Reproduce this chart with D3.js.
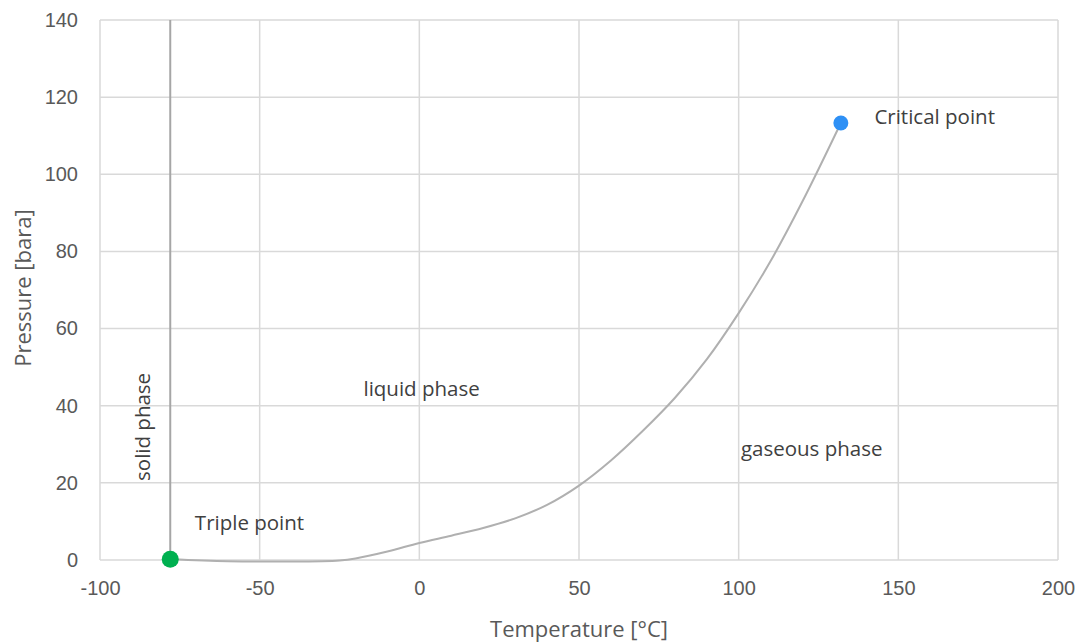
<!doctype html>
<html lang="en">
<head>
<meta charset="utf-8" />
<title>Phase diagram</title>
<style>
  html, body { margin: 0; padding: 0; background: #fff; }
  svg { display: block; font-family: "Open Sans", "Noto Sans", sans-serif; }
  .grid line { stroke: #d9d9d9; stroke-width: 1.5; }
  .tick text { fill: #595959; font-size: 20px; }
  .note { fill: #404040; font-size: 20.5px; }
  .title { fill: #595959; font-size: 22px; }
</style>
</head>
<body>
<script src="https://cdn.jsdelivr.net/npm/d3@7"></script>
<script>

// vapour pressure curve
var temps = [-78, -60, -40, -25, -20, -10, 0, 10, 20, 30, 40, 50, 60, 70, 80, 90, 100, 110, 120, 132];
var pressures = [0.2, -0.3, -0.4, -0.1, 0.4, 2.2, 4.4, 6.3, 8.3, 10.8, 14.3, 19.3, 25.8, 33.5, 42, 52, 64, 77.5, 93, 113.3];

// melting line (vertical)
var meltTemps = [-78, -78];
var meltPressures = [0.2, 140];

var triplePoint = [-78, 0.2];
var criticalPoint = [132, 113.3];

var xTicks = [-100, -50, 0, 50, 100, 150, 200];
var yTicks = [0, 20, 40, 60, 80, 100, 120, 140];

var notes = [
  { text: 'Critical point', t: 142.5, p: 115, rotate: false },
  { text: 'liquid phase', t: -17.5, p: 44.6, rotate: false },
  { text: 'gaseous phase', t: 100.7, p: 29, rotate: false },
  { text: 'Triple point', t: -70.3, p: 9.8, rotate: false },
  { text: 'solid phase', t: -87, p: 34.5, rotate: true }
];

var width = 1080, height = 642;
var margin = { top: 20, right: 22, bottom: 82, left: 100 };

var svg = d3.select('body').append('svg')
  .attr('width', width)
  .attr('height', height);

var x = d3.scaleLinear().domain([-100, 200]).range([margin.left, width - margin.right]);
var y = d3.scaleLinear().domain([0, 140]).range([height - margin.bottom, margin.top]);

// gridlines
var gx = svg.append('g').attr('class', 'grid');
gx.selectAll('line.v').data(xTicks).enter().append('line')
  .attr('class', 'v')
  .attr('x1', function (d) { return x(d); })
  .attr('x2', function (d) { return x(d); })
  .attr('y1', y(0))
  .attr('y2', y(140));
gx.selectAll('line.h').data(yTicks).enter().append('line')
  .attr('class', 'h')
  .attr('y1', function (d) { return y(d); })
  .attr('y2', function (d) { return y(d); })
  .attr('x1', x(-100))
  .attr('x2', x(200));

// axes (labels only), plain hyphen minus like the original
var fmt = function (d) { return String(d); };
var xAxis = svg.append('g')
  .attr('transform', 'translate(0,' + (y(0) + 13) + ')')
  .call(d3.axisBottom(x).tickValues(xTicks).tickFormat(fmt).tickSize(0).tickPadding(8));
var yAxis = svg.append('g')
  .attr('transform', 'translate(' + (x(-100) - 14) + ',0)')
  .call(d3.axisLeft(y).tickValues(yTicks).tickFormat(fmt).tickSize(0).tickPadding(8));
[xAxis, yAxis].forEach(function (a) {
  a.select('.domain').remove();
  a.selectAll('.tick text').attr('font-family', null).attr('font-size', null);
});

// melting line
var line = d3.line()
  .x(function (d) { return x(d[0]); })
  .y(function (d) { return y(d[1]); });

svg.append('path')
  .datum(d3.zip(meltTemps, meltPressures))
  .attr('d', line)
  .attr('fill', 'none')
  .attr('stroke', '#a6a6a6')
  .attr('stroke-width', 2);

// vapour pressure curve
svg.append('path')
  .datum(d3.zip(temps, pressures))
  .attr('d', line.curve(d3.curveCatmullRom))
  .attr('fill', 'none')
  .attr('stroke', '#b0b0b0')
  .attr('stroke-width', 2);

// points
svg.append('circle')
  .attr('cx', x(triplePoint[0]))
  .attr('cy', y(triplePoint[1]))
  .attr('r', 8.5)
  .attr('fill', '#00b050');
svg.append('circle')
  .attr('cx', x(criticalPoint[0]))
  .attr('cy', y(criticalPoint[1]))
  .attr('r', 7.5)
  .attr('fill', '#2e90f5');

// annotations
svg.selectAll('text.note').data(notes).enter().append('text')
  .attr('class', 'note')
  .attr('transform', function (d) {
    var s = 'translate(' + x(d.t) + ',' + y(d.p) + ')';
    return d.rotate ? s + ' rotate(-90)' : s;
  })
  .attr('dominant-baseline', 'central')
  .attr('text-anchor', function (d) { return d.rotate ? 'middle' : 'start'; })
  .text(function (d) { return d.text; });

// axis titles
svg.append('text')
  .attr('class', 'title')
  .attr('x', x(50))
  .attr('y', 628)
  .attr('dominant-baseline', 'central')
  .attr('text-anchor', 'middle')
  .text('Temperature [°C]');
svg.append('text')
  .attr('class', 'title')
  .attr('transform', 'translate(22,' + y(70.5) + ') rotate(-90)')
  .attr('dominant-baseline', 'central')
  .attr('text-anchor', 'middle')
  .text('Pressure [bara]');

</script>
</body>
</html>
